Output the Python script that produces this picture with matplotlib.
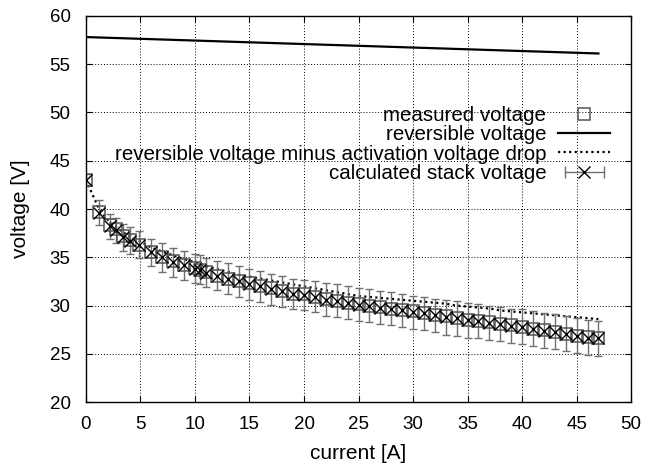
import matplotlib
matplotlib.use('Agg')
import matplotlib.pyplot as plt
from matplotlib.lines import Line2D
from matplotlib.legend_handler import HandlerLine2D, HandlerTuple

plt.rcParams['font.family'] = ['Liberation Sans', 'DejaVu Sans']

# current [A]
current = [0, 1.2, 2.2, 2.8, 3.4, 4.0, 4.9, 6.0, 7.0, 8.0, 9.0, 10.0, 10.5, 11.0,
           12.0, 13.0, 14.0, 15.0, 16.0, 17.0, 18.0, 19.0, 20.0, 21.0, 22.0, 23.0,
           24.0, 25.0, 26.0, 27.0, 28.0, 29.0, 30.0, 31.0, 32.0, 33.0, 34.0, 35.0,
           36.0, 37.0, 38.0, 39.0, 40.0, 41.0, 42.0, 43.0, 44.0, 45.0, 46.0, 47.0]

measured = [43.0, 39.7, 38.3, 37.9, 37.2, 36.8, 36.3, 35.5, 35.0, 34.6, 34.2, 33.9, 33.7, 33.5,
            33.1, 32.8, 32.5, 32.3, 32.0, 31.8, 31.5, 31.2, 31.2, 30.9, 30.7, 30.5,
            30.3, 30.2, 30.0, 29.9, 29.7, 29.5, 29.4, 29.2, 29.0, 28.9, 28.7, 28.5,
            28.4, 28.3, 28.1, 28.0, 27.8, 27.6, 27.5, 27.3, 27.1, 26.9, 26.8, 26.6]

calculated = [43.0, 39.6, 38.2, 37.8, 37.1, 36.7, 36.3, 35.5, 35.0, 34.5, 34.2, 33.8, 33.7, 33.4,
              33.1, 32.8, 32.5, 32.2, 32.0, 31.7, 31.5, 31.2, 31.1, 30.9, 30.6, 30.5,
              30.3, 30.1, 30.0, 29.8, 29.7, 29.5, 29.3, 29.2, 29.0, 28.8, 28.7, 28.5,
              28.4, 28.2, 28.1, 27.9, 27.8, 27.6, 27.4, 27.3, 27.1, 26.9, 26.7, 26.6]

calc_err = [0.6, 1.3, 1.3, 1.3, 1.4, 1.4, 1.4, 1.4, 1.5, 1.5, 1.5, 1.5, 1.5, 1.5,
            1.5, 1.6, 1.6, 1.6, 1.6, 1.6, 1.6, 1.6, 1.6, 1.6, 1.7, 1.7,
            1.7, 1.7, 1.7, 1.7, 1.7, 1.7, 1.7, 1.7, 1.7, 1.8, 1.8, 1.8,
            1.8, 1.8, 1.8, 1.8, 1.8, 1.8, 1.8, 1.8, 1.8, 1.8, 1.8, 1.8]

activation = [43.0, 40.0, 38.6, 38.1, 37.6, 37.2, 36.7, 36.0, 35.6, 35.2, 34.8, 34.5, 34.3, 34.1,
              33.8, 33.5, 33.2, 33.0, 32.8, 32.6, 32.4, 32.2, 32.0, 31.8, 31.6, 31.4,
              31.2, 31.0, 30.9, 30.8, 30.7, 30.6, 30.5, 30.4, 30.3, 30.2, 30.0, 29.9,
              29.8, 29.7, 29.5, 29.4, 29.3, 29.2, 29.1, 29.0, 28.9, 28.8, 28.7, 28.6]

rev_current = [0, 47]
reversible = [57.8, 56.1]

fig = plt.figure(figsize=(6.46, 4.65), dpi=100)
ax = fig.add_axes([0.133, 0.135, 0.844, 0.831])

ax.plot(rev_current, reversible, color='black', lw=1.6)
ax.plot(current, activation, color='black', ls=(0, (1, 1.5)), lw=1.6)
ax.errorbar(current, calculated, yerr=calc_err, fmt='none', ecolor='#707070',
            elinewidth=1.0, capsize=3, capthick=1.0)
ax.plot(current, measured, ls='none', marker='s', markersize=9, mfc='none',
        mec='#555555', mew=1.1)
ax.plot(current, calculated, ls='none', marker='x', markersize=9, color='black', mew=1.0)

ax.set_xlim(0, 50)
ax.set_ylim(20, 60)
ax.set_xticks(range(0, 51, 5))
ax.set_yticks(range(20, 61, 5))
ax.tick_params(direction='in', length=4, labelsize=13.5, top=True, right=True)
ax.tick_params(axis='x', pad=10)
ax.tick_params(axis='y', pad=11)
ax.grid(True, color='black', ls=(0, (1, 2)), lw=0.7)
for s in ax.spines.values():
    s.set_linewidth(1.0)
ax.set_xlabel('current [A]', fontsize=15, labelpad=8)
ax.set_ylabel('voltage [V]', fontsize=15, labelpad=14)

h_meas = Line2D([], [], ls='none', marker='s', markersize=9, mfc='none', mec='#555555', mew=1.1)
h_rev = Line2D([], [], color='black', lw=1.6)
h_act = Line2D([], [], color='black', ls=(0, (1, 1.5)), lw=1.6)
h_bar = Line2D([], [], color='#707070', lw=1.0, marker='|', markersize=8)
h_x = Line2D([], [], ls='none', marker='x', markersize=9, color='black', mew=1.0)

leg = ax.legend([h_meas, h_rev, h_act, (h_bar, h_x)],
                ['measured voltage', 'reversible voltage',
                 'reversible voltage minus activation voltage drop',
                 'calculated stack voltage'],
                handler_map={h_meas: HandlerLine2D(numpoints=1),
                             h_bar: HandlerLine2D(numpoints=2),
                             h_x: HandlerLine2D(numpoints=1),
                             tuple: HandlerTuple(ndivide=1)},
                markerfirst=False, frameon=False, fontsize=14.8, loc='upper right',
                bbox_to_anchor=(0.961, 0.767), handlelength=2.5, labelspacing=0.02,
                handletextpad=0.6, borderaxespad=0, borderpad=0)

fig.savefig('out.png', dpi=100)
